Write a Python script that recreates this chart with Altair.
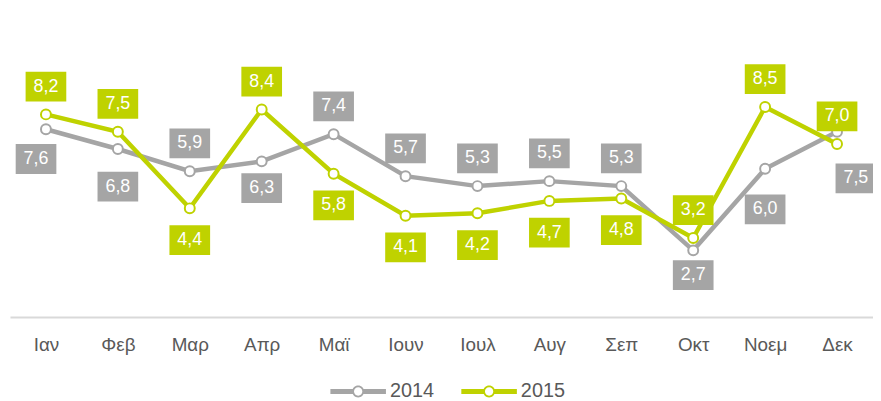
import altair as alt
import pandas as pd

months = ["Ιαν", "Φεβ", "Μαρ", "Απρ", "Μαϊ", "Ιουν", "Ιουλ", "Αυγ", "Σεπ", "Οκτ", "Νοεμ", "Δεκ"]
v2014 = [7.6, 6.8, 5.9, 6.3, 7.4, 5.7, 5.3, 5.5, 5.3, 2.7, 6.0, 7.5]
v2015 = [8.2, 7.5, 4.4, 8.4, 5.8, 4.1, 4.2, 4.7, 4.8, 3.2, 8.5, 7.0]
series = ["2014", "2015"]

# ---- style ----
GRAY = "#a5a5a5"
GREEN = "#bfd200"
TEXT = "#595959"
FONT = "Liberation Sans"
W, H = 870, 299
YMAX = 12
PX_X = W / 12.0
PX_Y = H / YMAX
BOX_W, BOX_H = 41, 30
ABOVE, BELOW = -28, 32
# label placement tweaks (pixels: dx, dy)
overrides = {
    ("2014", 0): (-10, 30), ("2014", 1): (0, 38), ("2014", 3): (0, 27),
    ("2014", 9): (0, 25), ("2014", 10): (0, 41), ("2014", 11): (19, 47),
    ("2015", 11): (0, -28),
}

vals = {"2014": v2014, "2015": v2015}
rows = []
for s in series:
    other = "2015" if s == "2014" else "2014"
    for i, m in enumerate(months):
        v = vals[s][i]
        ov = vals[other][i]
        dx, dy = 0, (ABOVE if v > ov else BELOW)
        if (s, i) in overrides:
            dx, dy = overrides[(s, i)]
        lx = i + dx / PX_X
        ly = v - dy / PX_Y
        rows.append({
            "s": s, "i": i, "v": v,
            "lab": f"{v:.1f}".replace(".", ","),
            "lx": lx, "ly": ly,
            "x0": lx - BOX_W / 2 / PX_X, "x1": lx + BOX_W / 2 / PX_X,
            "y0": ly - BOX_H / 2 / PX_Y, "y1": ly + BOX_H / 2 / PX_Y,
        })
df = pd.DataFrame(rows)

xscale = alt.Scale(domain=[-0.5, 11.5], nice=False, zero=False)
yscale = alt.Scale(domain=[0, YMAX], nice=False)
month_arr = "[" + ",".join("'" + m + "'" for m in months) + "]"
xaxis = alt.Axis(values=list(range(12)), labelExpr=month_arr + "[datum.value]",
                 grid=False, ticks=False, tickSize=0, domainColor="#d9d9d9",
                 domainWidth=2, labelFontSize=19, labelColor=TEXT, labelPadding=19,
                 labelFont=FONT, labelFlush=False, labelOverlap=False, title=None)

# legend symbol: thick line with a hollow ring in the middle (filled shape)
legend_path = (
    "M-1,-0.09L-0.19,-0.09L-0.19,0.09L-1,0.09Z"
    "M0.19,-0.09L1,-0.09L1,0.09L0.19,0.09Z"
    "M0.214,0A0.214,0.214,0,1,1,-0.214,0A0.214,0.214,0,1,1,0.214,0Z"
    "M0.15,0A0.15,0.15,0,1,0,-0.15,0A0.15,0.15,0,1,0,0.15,0Z"
)
legend = alt.Legend(orient="none", legendX=323, legendY=346, direction="horizontal",
                    title=None, symbolType=legend_path, symbolSize=3136,
                    symbolOpacity=1, symbolStrokeWidth=0,
                    labelFontSize=20, labelColor=TEXT,
                    labelFont=FONT, columnPadding=27, labelOffset=4)


def X(f):
    return alt.X(f + ":Q", scale=xscale, axis=xaxis)


def Y(f):
    return alt.Y(f + ":Q", scale=yscale, axis=None)


def C():
    return alt.Color("s:N", scale=alt.Scale(domain=series, range=[GRAY, GREEN]), legend=legend)


def F():
    return alt.Fill("s:N", scale=alt.Scale(domain=series, range=[GRAY, GREEN]), legend=None)


base = alt.Chart(df)
layers = []
for s in series:
    sub = base.transform_filter(alt.datum.s == s)
    layers.append(sub.mark_line(strokeWidth=4.5).encode(x=X("i"), y=Y("v"), color=C()))
    layers.append(sub.mark_point(filled=False, fill="white", fillOpacity=1, opacity=1,
                                 size=100, strokeWidth=2).encode(x=X("i"), y=Y("v"), color=C()))
boxes = base.mark_rect(opacity=1).encode(x=X("x0"), x2="x1:Q", y=Y("y0"), y2="y1:Q", fill=F())
texts = base.mark_text(color="white", fontSize=18, font=FONT).encode(
    x=X("lx"), y=Y("ly"), text="lab:N")
layers += [boxes, texts]

chart = alt.layer(*layers).properties(
    width=W, height=H,
    padding={"left": 2, "right": 0, "top": 11, "bottom": 82},
    autosize=alt.AutoSizeParams(type="none"),
).configure(font=FONT).configure_view(stroke=None, strokeWidth=0)

chart.save("out.html", embed_options={"renderer": "svg", "actions": False})
